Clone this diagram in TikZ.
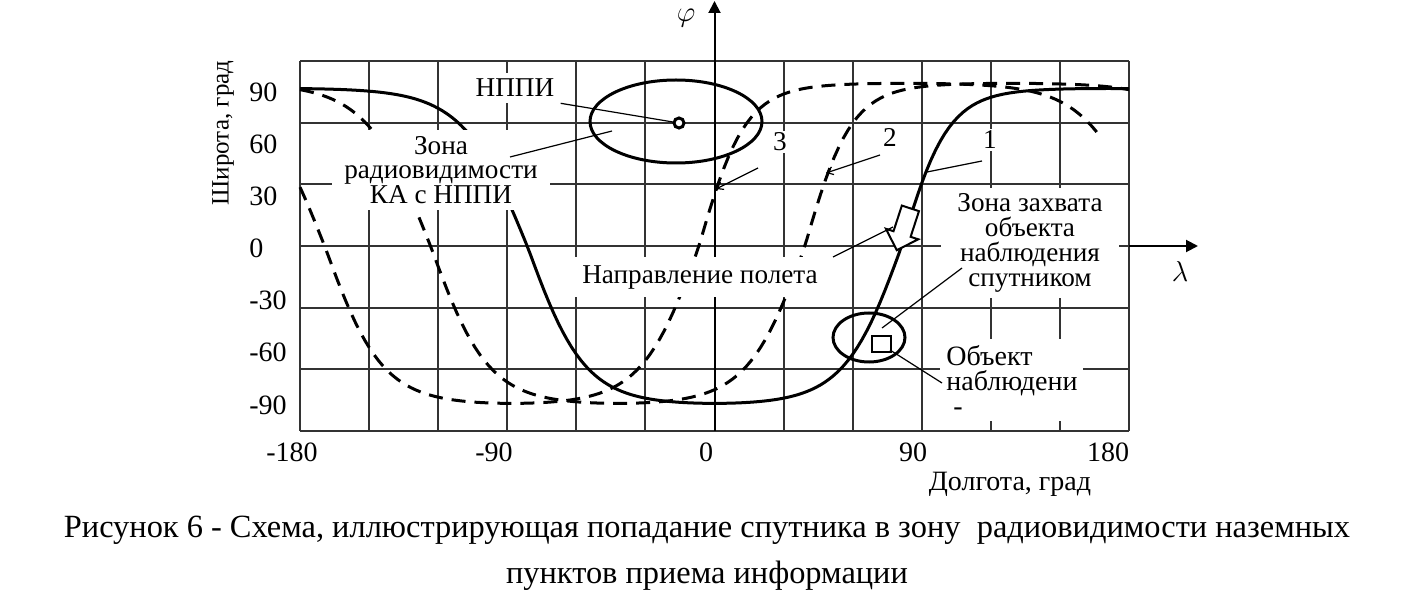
\documentclass[tikz,border=0pt]{standalone}
\usepackage{fontspec}
\setmainfont{Liberation Serif}
\usetikzlibrary{arrows.meta,shapes.arrows}
\tikzset{
  gridline/.style={line width=1pt, color=black!80},
  axis/.style={line width=1pt, -{Triangle[length=6pt,width=6pt]}},
  track/.style={line width=1.5pt},
  trackdash/.style={line width=1.5pt, dash pattern=on 7pt off 4.5pt},
  leader/.style={line width=0.6pt},
  barb/.style={leader, -{Straight Barb[length=3pt,width=4pt]}},
  lbl/.style={fill=white, inner sep=3pt, align=center, font=\fontsize{13.6}{12.4}\selectfont},
  ticklbl/.style={inner sep=0pt, font=\fontsize{14}{16}\selectfont},
  flyarrow/.style={single arrow, draw, fill=white, line width=1pt, inner xsep=0pt, inner ysep=4pt,
    single arrow head extend=4pt, minimum height=22pt},
  declare function={
    trkw(\x)=mod(\x+882,360)-162;
    trkt(\x,\a)=(\x<0) ? 93*tanh(2*sin(\x*1.11111)) : \a*tanh((2.6+0.4*cos(\x*0.90909))*sin(\x*0.90909));
    trk(\x,\a)=trkt(trkw(\x),\a);
  }
}

\begin{document}
\begin{tikzpicture}[x=0.5pt, y=-0.5pt]
		%%%%% START %%%%%
		\useasboundingbox (0,0) rectangle (1420,609);
		
		% grid
		\foreach \i in {0,...,12}
			\draw[gridline] ({300+69.0833*\i},61) -- ({300+69.0833*\i},431);
		\foreach \j in {0,...,6}
			\draw[gridline] (300,{61+61.667*\j}) -- (1129,{61+61.667*\j});
		
		% axes
		\coordinate (phibase) at (714.5,431);
		\coordinate (phitip) at (714.5,1);
		\coordinate (lambase) at (1129,246);
		\coordinate (lamtip) at (1198,246);
		\draw[axis] (phibase) -- (phitip);
		\draw[axis] (lambase) -- (lamtip);
		
		% ground tracks, lambda/phi in degrees
		\coordinate (orig) at (714.5,248);
		\begin{scope}[shift={(orig)}, x=1.15125pt, y=0.8665pt]
			\draw[track] plot[domain=-180:180, samples=181] (\x, {trk(\x-81,93)});
			\draw[trackdash] plot[domain=-180:180, samples=181] (\x, {trk(\x-39,96)});
			\draw[trackdash] plot[domain=-180:166, samples=174] (\x, {trk(\x+7,96)});
		\end{scope}
		
		% radio zone of the ground station
		\draw[track] (676,121.5) ellipse [x radius=86, y radius=41.5];
		\coordinate (dot) at (679,123);
		
		% capture zone and object
		\draw[track] (869,337.5) ellipse [x radius=36, y radius=24.5];
		\draw[line width=1.2pt] (872,336) rectangle (891,352);
		
		% labels
		\node[ticklbl, anchor=west] (y90) at (249,92) {90};
		\node[ticklbl, anchor=west] (y60) at (249,144) {60};
		\node[ticklbl, anchor=west] (y30) at (249,196) {30};
		\node[ticklbl, anchor=west] (y0) at (249,248) {0};
		\node[ticklbl, anchor=west] (ym30) at (249,300) {-30};
		\node[ticklbl, anchor=west] (ym60) at (249,352) {-60};
		\node[ticklbl, anchor=west] (ym90) at (249,405) {-90};
		\node[ticklbl] (xm180) at (292,452) {-180};
		\node[ticklbl] (xm90) at (494,452) {-90};
		\node[ticklbl] (x0) at (706,452) {0};
		\node[ticklbl] (x90) at (913,452) {90};
		\node[ticklbl] (x180) at (1108,452) {180};
		\node[ticklbl, rotate=90, font=\fontsize{12.5}{14}\selectfont] (ylabel) at (223,133) {Широта, град};
		\node[ticklbl] (xlabel) at (1010,484) {Долгота, град};
		\node[ticklbl] (philbl) at (686,18) {$\varphi$};
		\node[ticklbl] (lamlbl) at (1180,272) {$\lambda$};
		
		\node[lbl, inner xsep=6pt] (zonaR) at (441,170) {Зона\\радиовидимости\\КА с НППИ};
		\node[lbl] (nppi) at (515,88) {НППИ};
		\node[lbl, inner sep=1pt] (n3) at (780,142) {3};
		\node[lbl, inner sep=1pt] (n2) at (890,137) {2};
		\node[lbl, inner sep=1pt] (n1) at (990,140) {1};
		\node[lbl, inner sep=4pt] (napr) at (700,277) {Направление полета};
		\node[lbl, inner xsep=8pt] (zonaZ) at (1030,243) {Зона захвата\\объекта\\наблюдения\\спутником};
		\node[lbl, align=left, anchor=west, font=\fontsize{14}{12.5}\selectfont] (obj) at (940,380) {Объект\\наблюдени\\\ -};
		
		\node[flyarrow, rotate=-108] (dir) at (905,225) {};
		
		% leaders
		\coordinate (zrl) at (510,157);
		\coordinate (zre) at (612,131);
		\coordinate (l3a) at (758,168);
		\coordinate (l3b) at (716,189);
		\coordinate (l2a) at (880,155);
		\coordinate (l2b) at (826,173);
		\coordinate (l1a) at (982,161);
		\coordinate (l1b) at (927,172);
		\coordinate (dira) at (833,257);
		\coordinate (dirb) at (893,227);
		\coordinate (zza) at (962,268);
		\coordinate (zzb) at (882,328);
		\coordinate (oba) at (890,350);
		\coordinate (obb) at (942,383);
		\draw[leader] (nppi.south east) -- (dot);
		\draw[line width=1.5pt, fill=white] (dot) circle (5);
		\draw[leader] (zrl) -- (zre);
		\draw[barb] (l3a) -- (l3b);
		\draw[barb] (l2a) -- (l2b);
		\draw[leader] (l1a) -- (l1b);
		\draw[leader] (dira) -- (dirb);
		\draw[leader] (zza) -- (zzb);
		\draw[leader] (oba) -- (obb);
		
		% caption
		\node[font=\fontsize{16.2}{18}\selectfont] (cap1) at (707,530) {Рисунок 6 - Схема, иллюстрирующая попадание спутника в зону \ радиовидимости наземных};
		\node[font=\fontsize{16.2}{18}\selectfont] (cap2) at (707,576) {пунктов приема информации};
		%%%%% END %%%%%
	\end{tikzpicture}
\end{document}
